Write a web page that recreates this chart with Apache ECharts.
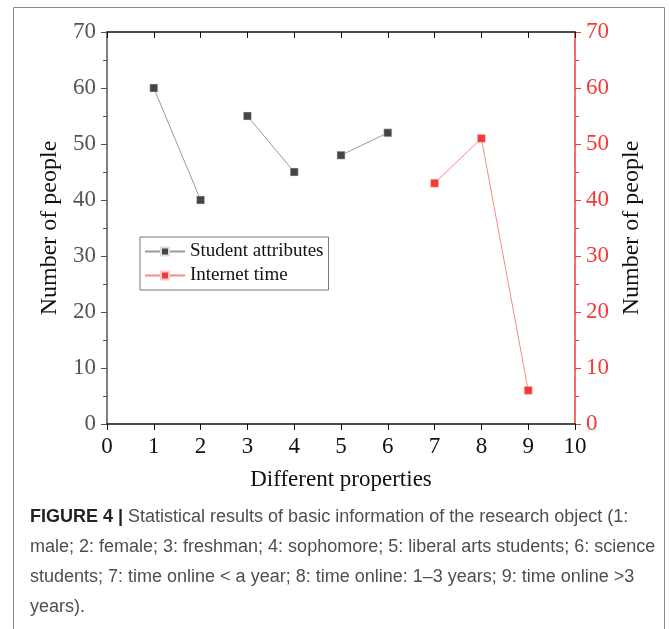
<!DOCTYPE html>
<html>
<head>
<meta charset="utf-8">
<script src="https://cdn.jsdelivr.net/npm/echarts@6/dist/echarts.min.js"></script>
<style>
html,body{margin:0;padding:0;background:#fff;}
#c{width:669px;height:629px;}
</style>
</head>
<body>
<div id="c"></div>
<script>
// ---- data ----
const studentX = [1, 2, 3, 4, 5, 6];
const studentY = [60, 40, 55, 45, 48, 52];
const internetX = [7, 8, 9];
const internetY = [43, 51, 6];
const seriesNames = ['Student attributes', 'Internet time'];
const xTicks = [0, 1, 2, 3, 4, 5, 6, 7, 8, 9, 10];
const yTicks = [0, 10, 20, 30, 40, 50, 60, 70];
const captionLines = [
  'Statistical results of basic information of the research object (1:',
  'male; 2: female; 3: freshman; 4: sophomore; 5: liberal arts students; 6: science',
  'students; 7: time online < a year; 8: time online: 1–3 years; 9: time online >3',
  'years).'
];

const serif = '"Liberation Serif", "DejaVu Serif", serif';
const sans = '"Liberation Sans", Arial, sans-serif';
const RED = '#f23a3a';

const chart = echarts.init(document.getElementById('c'));

// student attributes drawn as pairs (1-2, 3-4, 5-6)
const studentSeries = [];
for (let i = 0; i < studentX.length; i += 2) {
  studentSeries.push({
    name: seriesNames[0],
    type: 'line',
    xAxisIndex: 0,
    yAxisIndex: 0,
    symbol: 'rect',
    symbolSize: 8,
    itemStyle: { color: '#454545', borderColor: '#ddd', borderWidth: 0.5 },
    lineStyle: { color: '#9a9a9a', width: 1 },
    data: [[studentX[i], studentY[i]], [studentX[i + 1], studentY[i + 1]]],
    z: 3
  });
}

const internetSeries = {
  name: seriesNames[1],
  type: 'line',
  xAxisIndex: 0,
  yAxisIndex: 1,
  symbol: 'rect',
  symbolSize: 8,
  itemStyle: { color: RED, borderColor: '#fcc', borderWidth: 0.5 },
  lineStyle: { color: '#f58a8a', width: 1 },
  data: internetX.map((x, i) => [x, internetY[i]]),
  z: 3
};

const captionY0 = 519;
const captionGap = 30;
const graphics = [
  { type: 'rect', shape: { x: 13.5, y: 7.5, width: 651, height: 660 },
    style: { fill: 'none', stroke: '#8a8a8a', lineWidth: 1 }, z: -1 }
];
captionLines.forEach((t, i) => {
  graphics.push({
    type: 'text',
    left: 30,
    top: captionY0 + i * captionGap - 11,
    style: {
      text: i === 0 ? '{b|FIGURE 4 |} ' + t : t,
      font: '18px ' + sans,
      fill: '#4e4e4e',
      rich: { b: { fontWeight: 'bold', fill: '#222', fontSize: 18, fontFamily: sans } }
    }
  });
});

chart.setOption({
  animation: false,
  backgroundColor: '#fff',
  grid: { left: 107, right: 94, top: 32, bottom: 205, containLabel: false },
  legend: {
    data: seriesNames,
    orient: 'vertical',
    left: 140,
    top: 237,
    padding: [5, 5, 5, 4],
    itemGap: 5,
    itemWidth: 40,
    itemHeight: 10,
    borderColor: '#777',
    borderWidth: 1,
    textStyle: { fontFamily: serif, fontSize: 19, color: '#111' }
  },
  xAxis: [
    {
      type: 'value', position: 'bottom', min: 0, max: 10, interval: 1,
      name: 'Different properties', nameLocation: 'middle', nameGap: 44,
      nameTextStyle: { fontFamily: serif, fontSize: 23, color: '#111' },
      axisLine: { onZero: false, lineStyle: { color: '#111', width: 1.5 } },
      axisTick: { inside: false, length: 6, lineStyle: { color: '#111' } },
      axisLabel: { fontFamily: serif, fontSize: 23, color: '#111', margin: 11 },
      splitLine: { show: false }
    },
    {
      type: 'value', position: 'top', min: 0, max: 10, interval: 1,
      axisLine: { onZero: false, lineStyle: { color: '#111', width: 1.5 } },
      axisTick: { inside: true, length: 6, lineStyle: { color: '#111' } },
      axisLabel: { show: false },
      splitLine: { show: false }
    }
  ],
  yAxis: [
    {
      type: 'value', position: 'left', min: 0, max: 70, interval: 10,
      name: 'Number of people', nameLocation: 'middle', nameGap: 40, nameRotate: 90,
      nameTextStyle: { fontFamily: serif, fontSize: 24, color: '#111' },
      axisLine: { show: true, onZero: false, lineStyle: { color: '#555', width: 1.5 } },
      axisTick: { show: true, inside: false, length: 6, lineStyle: { color: '#555' } },
      minorTick: { show: true, splitNumber: 2, length: 4, lineStyle: { color: '#555' } },
      axisLabel: { fontFamily: serif, fontSize: 23, color: '#555', margin: 11 },
      splitLine: { show: false }
    },
    {
      type: 'value', position: 'right', min: 0, max: 70, interval: 10,
      name: 'Number of people', nameLocation: 'middle', nameGap: 39, nameRotate: 90,
      nameTextStyle: { fontFamily: serif, fontSize: 24, color: '#111' },
      axisLine: { show: true, onZero: false, lineStyle: { color: RED, width: 1.5 } },
      axisTick: { show: true, inside: false, length: 6, lineStyle: { color: RED } },
      minorTick: { show: true, splitNumber: 2, length: 4, lineStyle: { color: RED } },
      axisLabel: { fontFamily: serif, fontSize: 23, color: RED, margin: 11 },
      splitLine: { show: false }
    }
  ],
  series: [...studentSeries, internetSeries],
  graphic: graphics
});
</script>
</body>
</html>
